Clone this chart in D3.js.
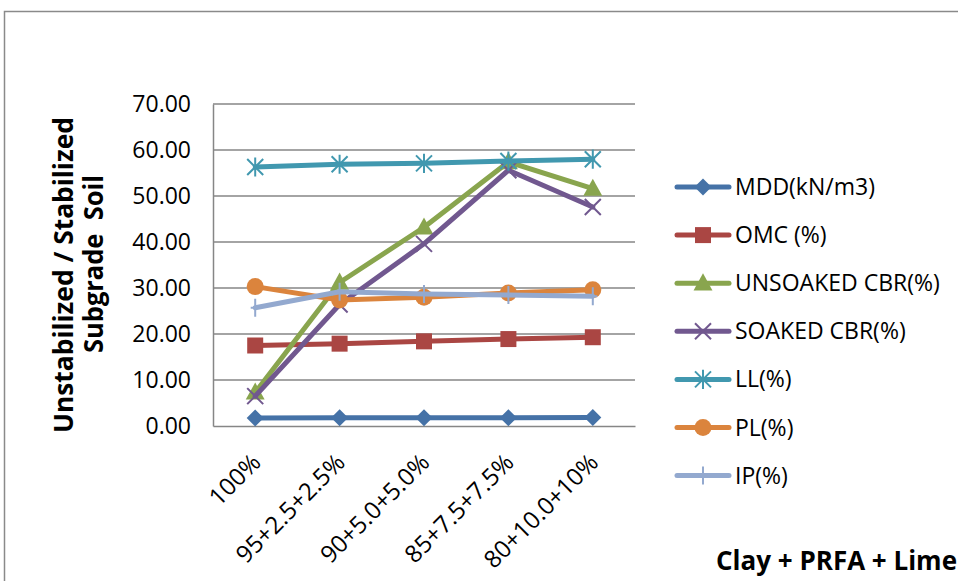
<!DOCTYPE html>
<html><head><meta charset="utf-8">
<script src="https://cdn.jsdelivr.net/npm/d3@7"></script>
<style>body{margin:0;background:#fff}svg{display:block}text{font-family:"Open Sans",sans-serif}</style>
</head><body><svg id="c" width="958" height="581"></svg>
<script>
const categories = ["100%","95+2.5+2.5%","90+5.0+5.0%","85+7.5+7.5%","80+10.0+10%"];
const seriesNames = ["MDD(kN/m3)","OMC (%)","UNSOAKED CBR(%)","SOAKED CBR(%)","LL(%)","PL(%)","IP(%)"];
const mdd = [1.75,1.78,1.80,1.82,1.85];
const omc = [17.5,17.9,18.4,18.9,19.3];
const unsoaked = [7.3,31.2,43.2,57.4,51.6];
const soaked = [6.5,26.4,39.6,55.6,47.6];
const ll = [56.3,56.9,57.1,57.6,58.0];
const pl = [30.3,27.4,28.0,28.9,29.6];
const ip = [25.7,29.2,28.7,28.5,28.2];
const yTicks = [0,10,20,30,40,50,60,70];

const colors = ["#4572A7","#AA4643","#89A54E","#71588F","#4198AF","#DB843D","#93A9CF"];
const markers = ["diamond","square","triangle","x","star","circle","plus"];
const data = [mdd,omc,unsoaked,soaked,ll,pl,ip];

const svg = d3.select("#c");
const L=213,R=635,T=104,B=426;
const x = d3.scaleBand().domain(categories).range([L,R]);
const y = d3.scaleLinear().domain([0,70]).range([B,T]);

// outer border
svg.append("rect").attr("x",4.5).attr("y",11.5).attr("width",1000).attr("height",1000)
  .attr("fill","none").attr("stroke","#8a8a8a").attr("stroke-width",1.5);

// gridlines
svg.append("g").selectAll("line").data(yTicks.filter(d=>d>0)).join("line")
  .attr("x1",L).attr("x2",R).attr("y1",d=>y(d)).attr("y2",d=>y(d))
  .attr("stroke","#868686").attr("stroke-width",1.5);

// axes
const ya = svg.append("g").attr("transform",`translate(${L},0)`)
  .call(d3.axisLeft(y).tickValues(yTicks).tickFormat(d3.format(".2f")).tickSize(0).tickPadding(22));
ya.select(".domain").attr("stroke","#868686").attr("stroke-width",1.5);
ya.selectAll("text").attr("font-size",23).attr("fill","#000").attr("font-family","Open Sans");

const xa = svg.append("g").attr("transform",`translate(0,${B})`)
  .call(d3.axisBottom(x).tickSize(0).tickPadding(0));
xa.select(".domain").attr("stroke","#868686").attr("stroke-width",1.5);
xa.selectAll("text").attr("font-size",24).attr("fill","#000").attr("font-family","Open Sans")
  .attr("text-anchor","end").attr("dy",0)
  .attr("transform","translate(7,38) rotate(-45)");

function markerPath(type,s){
  const p=d3.path();
  if(type==="diamond"){p.moveTo(0,-s);p.lineTo(s,0);p.lineTo(0,s);p.lineTo(-s,0);p.closePath();}
  else if(type==="square"){p.rect(-s,-s,2*s,2*s);}
  else if(type==="triangle"){p.moveTo(0,-s*1.1);p.lineTo(s*1.05,s*0.8);p.lineTo(-s*1.05,s*0.8);p.closePath();}
  else if(type==="circle"){p.arc(0,0,s,0,2*Math.PI);}
  else if(type==="x"){p.moveTo(-s,-s);p.lineTo(s,s);p.moveTo(s,-s);p.lineTo(-s,s);}
  else if(type==="star"){p.moveTo(-s,-s);p.lineTo(s,s);p.moveTo(s,-s);p.lineTo(-s,s);p.moveTo(0,-s*1.2);p.lineTo(0,s*1.2);}
  else if(type==="plus"){p.moveTo(0,-s);p.lineTo(0,s);p.moveTo(-s*0.5,0);p.lineTo(s*0.5,0);}
  return p.toString();
}
const mSize=[8.5,8,9,8,8,8.5,9];
function drawMarker(g,type,c,s){
  const filled = ["diamond","square","triangle","circle"].includes(type);
  g.append("path").attr("d",markerPath(type,s))
    .attr("fill",filled?c:"none").attr("stroke",c).attr("stroke-width",filled?0:2);
}

const line = d3.line().x((d,i)=>x(categories[i])+x.bandwidth()/2).y(d=>y(d));
data.forEach((vals,k)=>{
  const g = svg.append("g");
  g.append("path").attr("d",line(vals)).attr("fill","none").attr("stroke",colors[k])
    .attr("stroke-width",5).attr("stroke-linejoin","round").attr("stroke-linecap","round");
  vals.forEach((v,i)=>{
    const mg=g.append("g").attr("transform",`translate(${x(categories[i])+x.bandwidth()/2},${y(v)})`);
    drawMarker(mg,markers[k],colors[k],mSize[k]);
  });
});

// legend
const lg = svg.append("g");
seriesNames.forEach((n,k)=>{
  const yy = 187 + k*48.1;
  lg.append("line").attr("x1",677).attr("x2",729).attr("y1",yy).attr("y2",yy)
    .attr("stroke",colors[k]).attr("stroke-width",5).attr("stroke-linecap","round");
  const mg=lg.append("g").attr("transform",`translate(703,${yy})`);
  drawMarker(mg,markers[k],colors[k],mSize[k]);
  lg.append("text").attr("x",735).attr("y",yy+8).attr("font-size",23).text(n);
});

// axis titles
svg.append("text").attr("transform","translate(73,275) rotate(-90)")
  .attr("text-anchor","middle").attr("font-weight","bold").attr("font-size",26)
  .attr("textLength",316).attr("lengthAdjust","spacingAndGlyphs")
  .text("Unstabilized / Stabilized");
svg.append("text").attr("transform","translate(103,264) rotate(-90)")
  .attr("text-anchor","middle").attr("font-weight","bold").attr("font-size",26)
  .style("white-space","pre")
  .attr("textLength",178).attr("lengthAdjust","spacingAndGlyphs")
  .text("Subgrade  Soil");

svg.append("text").attr("x",957).attr("y",570).attr("text-anchor","end")
  .attr("font-weight","bold").attr("font-size",26).text("Clay + PRFA + Lime");
</script></body></html>
